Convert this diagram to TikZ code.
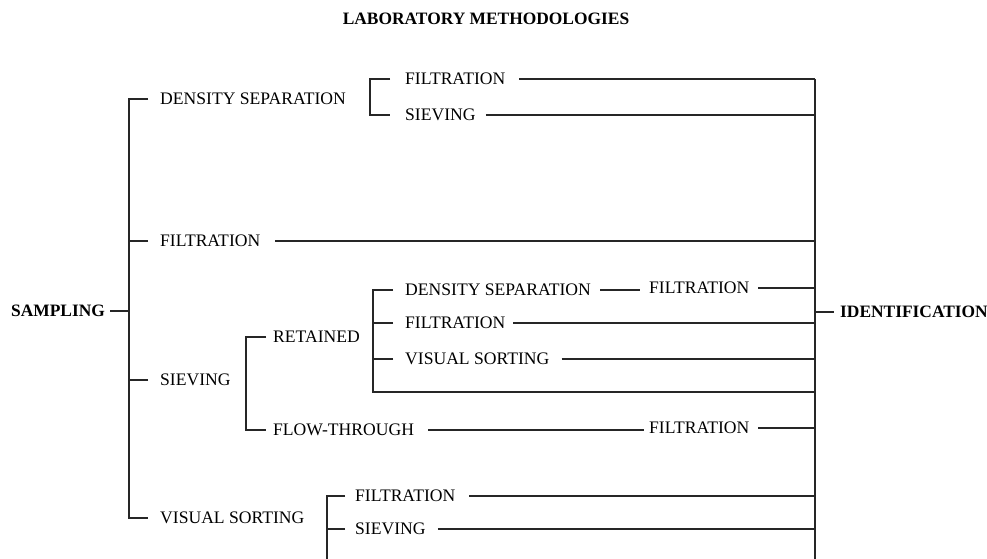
\documentclass[tikz,border=0pt]{standalone}
\usepackage{fontspec}
\setmainfont{Liberation Serif}
\begin{document}
\begin{tikzpicture}[x=1pt,y=-1pt,
  lbl/.style={anchor=west, inner sep=0pt, font=\fontsize{17.6}{20}\selectfont},
  bl/.style={anchor=west, inner sep=0pt, font=\bfseries\fontsize{17.4}{20}\selectfont},
  ln/.style={line width=1.5pt, black!85}]
\useasboundingbox[fill=white] (0,0) rectangle (987,559);
% title
\node[bl, anchor=center] (title) at (486,19) {LABORATORY METHODOLOGIES};
% nodes
\node[bl] (samp) at (11,311) {SAMPLING};
\node[bl] (ident) at (840,312) {IDENTIFICATION};
\node[lbl] (ds1) at (160,99) {DENSITY SEPARATION};
\node[lbl] (ds1f) at (405,79) {FILTRATION};
\node[lbl] (ds1s) at (405,115) {SIEVING};
\node[lbl] (filt) at (160,241) {FILTRATION};
\node[lbl] (siev) at (160,380) {SIEVING};
\node[lbl] (ret) at (273,337) {RETAINED};
\node[lbl] (flow) at (273,430) {FLOW-THROUGH};
\node[lbl] (rds) at (405,290) {DENSITY SEPARATION};
\node[lbl] (rdsf) at (649,288) {FILTRATION};
\node[lbl] (rf) at (405,323) {FILTRATION};
\node[lbl] (rvs) at (405,359) {VISUAL SORTING};
\node[lbl] (fthf) at (649,428) {FILTRATION};
\node[lbl] (vs) at (160,518) {VISUAL SORTING};
\node[lbl] (vsf) at (355,496) {FILTRATION};
\node[lbl] (vss) at (355,529) {SIEVING};
% coordinates of the verticals
\coordinate (V1) at (129,0);
\coordinate (R) at (815,0);
\coordinate (Rbot) at (815,559);
\coordinate (B1) at (370,0);
\coordinate (B2) at (246,0);
\coordinate (B3) at (373,0);
\coordinate (B3bot) at (373,392);
\coordinate (B4) at (327,0);
\coordinate (B4bot) at (327,559);
% sampling tree
\draw[ln] ([xshift=5pt]samp.east) -- (samp.east -| V1);
\draw[ln] ([xshift=-12pt]ds1.west) -| (V1 |- vs.west) -- ([xshift=-12pt]vs.west);
\draw[ln] ([xshift=-12pt]filt.west) -- (filt.west -| V1);
\draw[ln] ([xshift=-12pt]siev.west) -- (siev.west -| V1);
% right collector
\draw[ln] (ds1f.east -| R) -- (Rbot);
\draw[ln] (ident.west -| R) -- ([xshift=-6pt]ident.west);
% density separation bracket
\draw[ln] ([xshift=-15pt]ds1f.west) -| (B1 |- ds1s.west) -- ([xshift=-15pt]ds1s.west);
\draw[ln] ([xshift=14pt]ds1f.east) -- (ds1f.east -| R);
\draw[ln] ([xshift=10pt]ds1s.east) -- (ds1s.east -| R);
% filtration
\draw[ln] ([xshift=15pt]filt.east) -- (filt.east -| R);
% sieving bracket
\draw[ln] ([xshift=-7pt]ret.west) -| (B2 |- flow.west) -- ([xshift=-7pt]flow.west);
% retained bracket
\draw[ln] ([xshift=-12pt]rds.west) -| (B3bot) -- (B3bot -| R);
\draw[ln] ([xshift=-12pt]rf.west) -- (rf.west -| B3);
\draw[ln] ([xshift=-12pt]rvs.west) -- (rvs.west -| B3);
\draw[ln] ([xshift=9pt]rds.east) -- ([xshift=-9pt]rds.east -| rdsf.west);
\draw[ln] ([xshift=9pt]rdsf.east) -- (rdsf.east -| R);
\draw[ln] ([xshift=8pt]rf.east) -- (rf.east -| R);
\draw[ln] ([xshift=12pt]rvs.east) -- (rvs.east -| R);
% flow-through
\draw[ln] ([xshift=14pt]flow.east) -- ([xshift=-5pt]flow.east -| fthf.west);
\draw[ln] ([xshift=9pt]fthf.east) -- (fthf.east -| R);
% visual sorting bracket
\draw[ln] ([xshift=-10pt]vsf.west) -| (B4bot);
\draw[ln] ([xshift=-10pt]vss.west) -- (vss.west -| B4);
\draw[ln] ([xshift=14pt]vsf.east) -- (vsf.east -| R);
\draw[ln] ([xshift=12pt]vss.east) -- (vss.east -| R);
\end{tikzpicture}
\end{document}
